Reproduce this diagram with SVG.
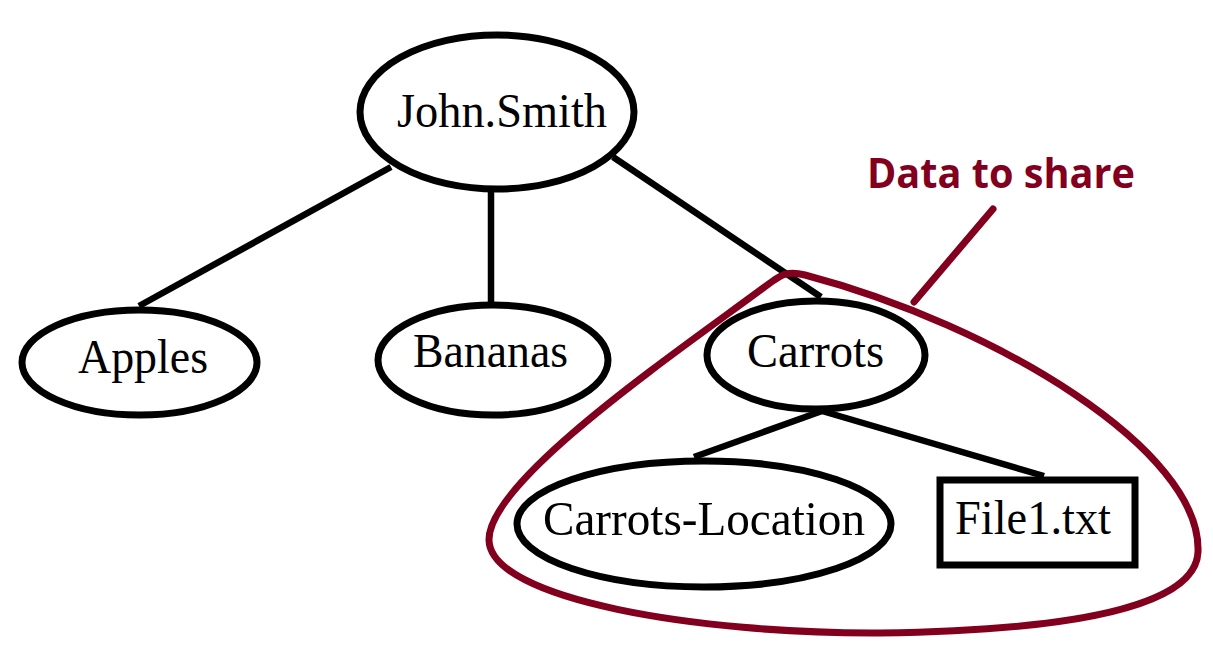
<svg xmlns="http://www.w3.org/2000/svg" width="1213" height="651" viewBox="0 0 1213 651">
<style>
.node{fill:#fff;stroke:#000;stroke-width:7}
.edge{stroke:#000;stroke-width:6.5;fill:none}
.lbl{font-family:"Liberation Serif","Times New Roman",serif;font-size:49px;fill:#000}
.hl{fill:none;stroke:#82001E;stroke-width:7;stroke-linecap:round;stroke-linejoin:round}
.note{font-family:"Open Sans","Noto Sans",sans-serif;font-weight:bold;font-size:41px;fill:#82001E}
</style>
<rect width="1213" height="651" fill="#fff"/>
<g id="connectors">
<line class="edge" x1="391" y1="167" x2="139" y2="306"/>
<line class="edge" x1="491" y1="190" x2="491" y2="302"/>
<line class="edge" x1="613" y1="157" x2="821" y2="297"/>
<line class="edge" x1="822" y1="411" x2="694" y2="457"/>
<line class="edge" x1="822" y1="411" x2="1044" y2="476"/>
</g>
<g id="john-smith">
<ellipse class="node" cx="497" cy="112" rx="137" ry="77"/>
<text class="lbl" x="397" y="127" textLength="210" lengthAdjust="spacingAndGlyphs">John.Smith</text>
</g>
<g id="apples">
<ellipse class="node" cx="139.5" cy="362.5" rx="117.5" ry="52.5"/>
<text class="lbl" x="78" y="373" textLength="130" lengthAdjust="spacingAndGlyphs">Apples</text>
</g>
<g id="bananas">
<ellipse class="node" cx="493" cy="360" rx="115" ry="55"/>
<text class="lbl" x="413" y="367" textLength="155" lengthAdjust="spacingAndGlyphs">Bananas</text>
</g>
<g id="carrots">
<ellipse class="node" cx="816" cy="355" rx="109" ry="54"/>
<text class="lbl" x="747" y="367" textLength="137" lengthAdjust="spacingAndGlyphs">Carrots</text>
</g>
<g id="carrots-location">
<ellipse class="node" cx="704" cy="524" rx="187" ry="63"/>
<text class="lbl" x="543" y="535" textLength="322" lengthAdjust="spacingAndGlyphs">Carrots-Location</text>
</g>
<g id="file1">
<rect class="node" x="940" y="480" width="195" height="85"/>
<text class="lbl" x="955" y="534" textLength="156" lengthAdjust="spacingAndGlyphs">File1.txt</text>
</g>
<g id="data-to-share">
<path class="hl" d="M 770,283 C 780,276 786,270 805,275 C 995,325 1202,450 1198,552 C 1196,600 1100,630 880,633 C 700,634 490,600 489,540 C 488,480 680,350 770,283 Z"/>
<line class="hl" x1="993" y1="209" x2="914" y2="302" stroke-width="8"/>
<text class="note" x="867" y="188" textLength="268" lengthAdjust="spacingAndGlyphs">Data to share</text>
</g>
</svg>
